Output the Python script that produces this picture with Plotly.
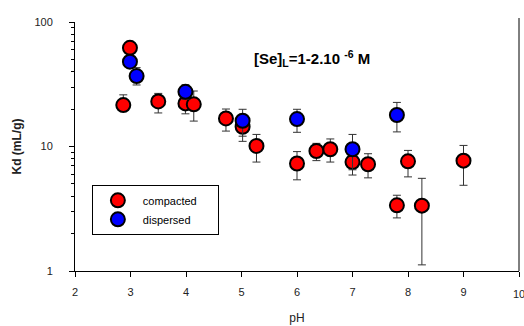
import plotly.graph_objects as go
import numpy as np

# compacted (red)
ph_c = [2.87, 2.99, 3.50, 3.99, 4.14, 4.72, 5.02, 5.27, 6.00, 6.35, 6.60, 7.00, 7.28, 7.80, 8.00, 8.25, 9.00]
kd_c = [21.5, 62, 23, 22.2, 21.8, 16.8, 14.4, 10.1, 7.3, 9.2, 9.5, 7.5, 7.2, 3.37, 7.6, 3.35, 7.7]
hi_c = [26, 62, 26.7, 24, 27.9, 20, 16, 12.5, 9.1, 10.6, 11.5, 8.3, 8.75, 4.06, 9.3, 5.55, 10.2]
lo_c = [19.5, 62, 18.6, 18.3, 16, 13.3, 11, 7.5, 5.4, 7.7, 7.5, 5.9, 5.6, 2.67, 5.7, 1.12, 4.88]

# dispersed (blue)
ph_d = [2.99, 3.11, 3.99, 5.02, 6.00, 7.00, 7.80]
kd_d = [48, 36.8, 27.5, 16.1, 16.6, 9.5, 17.9]
hi_d = [48, 43, 31.2, 19.9, 19.9, 12.5, 22.6]
lo_d = [48, 31.2, 24, 12.1, 13, 6.5, 13.1]

x_ticks = [2, 3, 4, 5, 6, 7, 8, 9, 10]
x_labels = ["2", "3", "4", "5", "6", "7", "8", "9", ""]
y_ticks = [1, 10, 100]

FONT = "Liberation Sans, Arial, sans-serif"

def errs(k, hi, lo):
    k = np.array(k); hi = np.array(hi); lo = np.array(lo)
    return (hi - k).tolist(), (k - lo).tolist()

fig = go.Figure()

for ph, kd, hi, lo, col, name in [
    (ph_c, kd_c, hi_c, lo_c, "#ff0000", "compacted&nbsp;&nbsp;&nbsp;&nbsp;&nbsp;"),
    (ph_d, kd_d, hi_d, lo_d, "#0000ff", "dispersed"),
]:
    up, dn = errs(kd, hi, lo)
    fig.add_trace(go.Scatter(
        x=ph, y=kd, mode="markers", name=name,
        marker=dict(size=14, color=col, line=dict(color="black", width=2)),
        error_y=dict(type="data", symmetric=False, array=up, arrayminus=dn,
                     color="#333333", thickness=1, width=4),
    ))

fig.add_annotation(
    x=0.534, y=0.904, xref="paper", yref="paper",
    text="<b>[Se]<sub>L</sub>=1-2.10 <sup>-6</sup> M</b>",
    showarrow=False, font=dict(family=FONT, size=15, color="black"),
)

# last x tick label (cut by the page edge in the reference)
fig.add_annotation(
    x=x_ticks[-1], y=0, xref="x", yref="paper", yanchor="top", yshift=-15,
    text="10", showarrow=False, font=dict(family=FONT, size=11, color="#222"),
)

fig.add_shape(type="line", xref="paper", yref="paper", x0=1, x1=1, y0=0, y1=1.016,
              line=dict(color="black", width=1))

fig.update_layout(
    width=524, height=326,
    margin=dict(l=75, r=5, t=22, b=55),
    paper_bgcolor="white", plot_bgcolor="white",
    font=dict(family=FONT, size=11, color="#222"),
    legend=dict(x=0.038, y=0.346, xanchor="left", yanchor="top",
                bordercolor="black", borderwidth=1, bgcolor="white",
                font=dict(family=FONT, size=11, color="black"),
                itemwidth=40, tracegroupgap=0),
    xaxis=dict(range=[2, 10], tickvals=x_ticks, ticktext=x_labels, ticks="outside", ticklen=5,
               tickcolor="black", showline=True, linecolor="black", linewidth=1,
               showgrid=False, zeroline=False, ticklabelstandoff=6, automargin=False,
               title=dict(text="pH", standoff=16, font=dict(size=12))),
    yaxis=dict(type="log", range=[0, 2], tickvals=y_ticks, ticktext=["1", "10", "100"],
               ticks="outside", ticklen=5, tickcolor="black",
               showline=True, linecolor="black", linewidth=1, showgrid=False, zeroline=False,
               ticklabelstandoff=14, automargin=False,
               minor=dict(ticks="outside", ticklen=3, tickcolor="black", dtick="D1", showgrid=False),
               title=dict(text="<b>Kd (mL/g)</b>", standoff=10, font=dict(size=12))),
)

fig.write_html("out.html")
